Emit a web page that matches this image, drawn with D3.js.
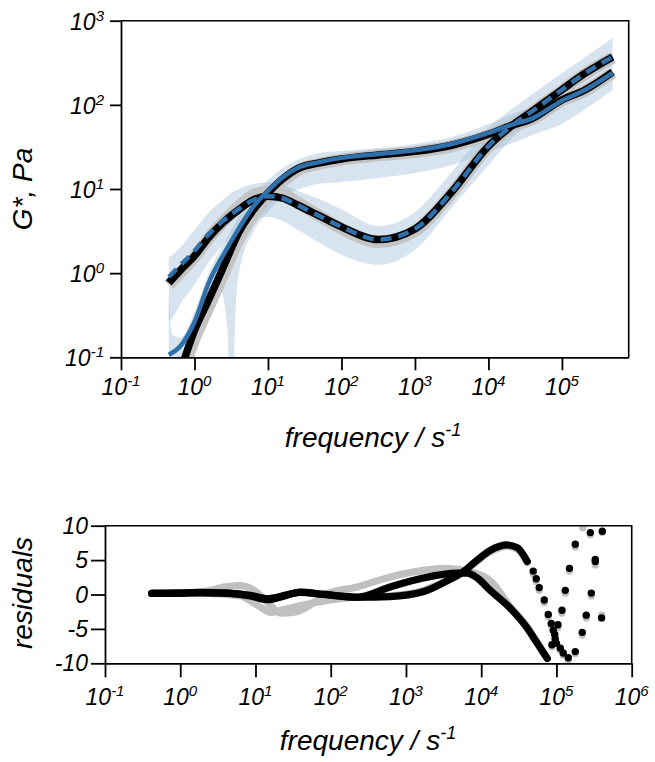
<!DOCTYPE html>
<html>
<head>
<meta charset="utf-8">
<script src="https://cdn.jsdelivr.net/npm/d3@7"></script>
<style>
body { margin: 0; background: #fff; }
text { font-family: "Liberation Sans", Arial, sans-serif; font-style: italic; fill: #000; }
</style>
</head>
<body>
<svg id="chart" width="655" height="762"></svg>
<script>
// ---- top panel: moduli, log10 values ----
const freqExp = [-0.35, -0.2, 0, 0.2, 0.4, 0.6, 0.8, 1.0, 1.2, 1.4, 1.7, 2.0, 2.5, 3.0, 3.5, 4.0, 4.3, 4.6, 5.0, 5.3, 5.69];
const storageBlack = [-1.46, -1.17, -0.68, -0.305, 0.087, 0.48, 0.75, 0.954, 1.12, 1.24, 1.31, 1.357, 1.405, 1.447, 1.52, 1.65, 1.75, 1.84, 2.06, 2.17, 2.39];
const storageGray  = [-1.56, -1.27, -0.78, -0.39, 0.0, 0.40, 0.69, 0.91, 1.09, 1.22, 1.30, 1.35, 1.40, 1.44, 1.51, 1.64, 1.74, 1.83, 2.05, 2.16, 2.38];
const storageBlue  = [-0.97, -0.875, -0.58, -0.10, 0.23, 0.526, 0.79, 0.978, 1.14, 1.25, 1.32, 1.37, 1.417, 1.46, 1.535, 1.666, 1.76, 1.84, 2.05, 2.17, 2.38];
const lossBlack = [-0.115, 0.027, 0.205, 0.43, 0.61, 0.752, 0.87, 0.915, 0.89, 0.81, 0.68, 0.55, 0.40, 0.526, 0.965, 1.51, 1.74, 1.927, 2.18, 2.367, 2.57];
const lossGray  = [-0.14, 0.0, 0.19, 0.42, 0.62, 0.79, 0.93, 0.97, 0.94, 0.84, 0.68, 0.53, 0.37, 0.50, 0.95, 1.50, 1.73, 1.92, 2.17, 2.36, 2.56];
const lossBlue  = [-0.045, 0.087, 0.265, 0.47, 0.63, 0.76, 0.87, 0.915, 0.89, 0.81, 0.68, 0.55, 0.40, 0.526, 0.965, 1.51, 1.74, 1.927, 2.18, 2.367, 2.57];

// confidence bands of the blue fit
const bandExp = [-0.35, -0.3, -0.2, 0, 0.2, 0.35, 0.45, 0.5, 0.55, 0.6, 0.8, 1.0, 1.2, 1.4, 1.7, 2.0, 2.5, 3.0, 3.5, 4.0, 4.3, 4.6, 5.0, 5.3, 5.69];
const storageHi = [-0.317, -0.733, -0.769, -0.46, 0.015, 0.277, 0.431, 0.514, 0.585, 0.68, 0.918, 1.108, 1.251, 1.346, 1.429, 1.453, 1.488, 1.536, 1.619, 1.773, 1.88, 1.987, 2.141, 2.296, 2.51];
const storageLo = [-2.5, -2.5, -1.09, -0.852, -0.377, -0.198, -0.674, -3.0, -0.674, -0.02, 0.491, 0.728, 0.906, 0.99, 1.061, 1.084, 1.132, 1.191, 1.286, 1.441, 1.536, 1.643, 1.773, 1.939, 2.177];
const lossHi = [0.182, 0.218, 0.3, 0.514, 0.728, 0.847, 0.918, 0.954, 0.978, 1.001, 1.06, 1.08, 1.05, 0.98, 0.88, 0.76, 0.561, 0.728, 1.203, 1.726, 1.939, 2.129, 2.379, 2.557, 2.795];
const lossLo = [-0.578, -0.531, -0.377, -0.139, 0.134, 0.3, 0.395, 0.443, 0.491, 0.538, 0.645, 0.668, 0.62, 0.52, 0.36, 0.22, 0.099, 0.277, 0.776, 1.286, 1.583, 1.82, 2.094, 2.272, 2.486];

// ---- bottom panel: residuals, [log10 frequency, residual] ----
const blackA = [[-0.379, 0.15], [0.0, 0.2], [0.263, 0.25], [0.622, 0.2], [0.928, -0.1], [1.154, -0.6], [1.42, -0.05], [1.593, 0.3], [1.899, 0.05], [2.351, -0.4], [2.79, -0.3], [3.229, 0.4], [3.548, 2.0], [3.761, 3.3], [3.947, 5.0], [4.12, 6.4], [4.346, 7.2], [4.479, 6.8], [4.612, 4.8]];
const blackADots = [[4.691, 3.4], [4.731, 2.3], [4.771, 1.0], [4.838, -0.8], [4.891, -2.9], [4.931, -4.2], [4.957, -5.2], [4.984, -6.5], [5.0, -7.1], [5.051, -7.8], [5.09, -8.5], [5.157, -9.2], [5.25, -8.3], [5.343, -5.5], [5.396, -3.0], [5.463, 0.2], [5.516, 4.8], [5.609, 9.2]];
const blackB = [[-0.379, 0.15], [0.0, 0.2], [0.263, 0.3], [0.622, 0.2], [0.928, -0.2], [1.154, -0.75], [1.42, -0.1], [1.593, 0.35], [1.899, 0.0], [2.351, -0.4], [2.79, 1.1], [3.229, 2.4], [3.681, 3.1], [3.814, 3.1], [3.947, 2.4], [4.12, 0.6], [4.386, -2.0], [4.612, -4.9], [4.745, -7.1], [4.878, -9.3]];
const blackBDots = [[4.94, -7.3], [4.977, -5.8], [5.02, -4.4], [5.073, -2.3], [5.117, 0.6], [5.173, 3.8], [5.25, 7.3], [5.45, 9.0], [5.516, 5.1], [5.6, -3.4]];
const grayA = [[-0.379, 0.15], [0.263, 0.2], [0.8, -0.2], [1.02, -1.5], [1.2, -2.6], [1.37, -2.2], [1.6, -1.6], [2.0, -0.8], [2.35, -0.4], [2.79, -0.2], [3.23, 0.6], [3.55, 2.1], [3.76, 3.3], [3.95, 4.9], [4.12, 6.2], [4.35, 7.0], [4.48, 6.6], [4.61, 4.6]];
const grayADots = [[4.691, 3.0], [4.731, 1.9], [4.771, 0.6], [4.838, -1.2], [4.891, -3.2], [4.931, -4.5], [4.984, -6.8], [5.051, -8.1], [5.09, -8.8], [5.157, -9.5], [5.25, -8.6], [5.343, -5.9], [5.396, -3.4], [5.463, -0.2], [5.516, 4.3], [5.609, 9.0]];
const grayB = [[-0.379, 0.15], [0.263, 0.35], [0.6, 1.1], [0.8, 1.3], [1.02, 0.3], [1.2, -1.6], [1.33, -2.7], [1.5, -2.6], [1.73, -1.5], [1.9, -0.1], [2.35, 1.1], [2.79, 2.55], [3.23, 3.5], [3.55, 3.8], [3.85, 3.3], [4.12, 2.0], [4.39, -1.8], [4.61, -4.7], [4.75, -7.0], [4.88, -9.3]];
const grayBDots = [[4.94, -7.6], [4.977, -6.1], [5.02, -4.8], [5.073, -2.7], [5.117, 0.2], [5.173, 3.4], [5.25, 6.9], [5.35, 9.7], [5.45, 8.7], [5.516, 4.7], [5.6, -3.0]];

const topXTicks = [-1, 0, 1, 2, 3, 4, 5];
const topYTicks = [-1, 0, 1, 2, 3];
const botXTicks = [-1, 0, 1, 2, 3, 4, 5, 6];
const botYTicks = [-10, -5, 0, 5, 10];

const svg = d3.select('#chart');

// scales
const xTop = d3.scaleLog().domain([0.1, 8.1e5]).range([121, 628.7]);
const yTop = d3.scaleLog().domain([0.1, 1000]).range([357.3, 20.7]);
const xBot = d3.scaleLog().domain([0.1, 1e6]).range([105, 631.7]);
const yBot = d3.scaleLinear().domain([-10, 10]).range([663.3, 525.7]);

svg.append('clipPath').attr('id', 'clipTop').append('rect')
    .attr('x', 121).attr('y', 20.7).attr('width', 628.7 - 121).attr('height', 357.3 - 20.7);
svg.append('clipPath').attr('id', 'clipBot').append('rect')
    .attr('x', 105).attr('y', 525.7).attr('width', 631.7 - 105).attr('height', 663.3 - 525.7);

// ---------- top panel ----------
const topG = svg.append('g').attr('clip-path', 'url(#clipTop)');

function band(lo, hi) {
    return d3.area()
        .x((d, i) => xTop(10 ** bandExp[i]))
        .y0((d, i) => yTop(10 ** lo[i]))
        .y1((d, i) => yTop(10 ** hi[i]))
        .curve(d3.curveMonotoneX)(bandExp);
}
topG.append('path').attr('d', band(storageLo, storageHi)).attr('fill', '#8fb4d4').attr('fill-opacity', 0.36);
topG.append('path').attr('d', band(lossLo, lossHi)).attr('fill', '#8fb4d4').attr('fill-opacity', 0.36);

function curve(vals) {
    return d3.line()
        .x((d, i) => xTop(10 ** freqExp[i]))
        .y(d => yTop(10 ** d))
        .curve(d3.curveMonotoneX)(vals);
}
[storageGray, lossGray].forEach(v => {
    topG.append('path').attr('d', curve(v)).attr('fill', 'none')
        .attr('stroke', '#c4c4c4').attr('stroke-width', 12);
});
[storageBlack, lossBlack].forEach(v => {
    topG.append('path').attr('d', curve(v)).attr('fill', 'none')
        .attr('stroke', '#000').attr('stroke-width', 7.5);
});
topG.append('path').attr('d', curve(storageBlue)).attr('fill', 'none')
    .attr('stroke', '#2f70aa').attr('stroke-width', 4.5);
topG.append('path').attr('d', curve(lossBlue)).attr('fill', 'none')
    .attr('stroke', '#2f70aa').attr('stroke-width', 4.5).attr('stroke-dasharray', '11 7');

// axes
function supLabel(sel) {
    sel.each(function (d) {
        const t = d3.select(this);
        t.text(null);
        t.append('tspan').text('10');
        t.append('tspan').attr('dy', -9).attr('font-size', 15).text(Math.round(Math.log10(d)));
    });
}

svg.append('g').attr('transform', 'translate(0,357.3)')
    .call(d3.axisBottom(xTop).tickValues(topXTicks.map(e => 10 ** e)).tickSize(13).tickSizeOuter(0).tickFormat(''));
svg.append('g').attr('transform', 'translate(121,0)')
    .call(d3.axisLeft(yTop).tickValues(topYTicks.map(e => 10 ** e)).tickSize(11).tickSizeOuter(0).tickFormat(''));

svg.append('g').selectAll('text').data(topXTicks.map(e => 10 ** e)).join('text')
    .attr('x', d => xTop(d)).attr('y', 395).attr('text-anchor', 'middle').attr('font-size', 23)
    .call(supLabel);
svg.append('g').selectAll('text').data(topYTicks.map(e => 10 ** e)).join('text')
    .attr('x', 104).attr('y', d => yTop(d) + 9).attr('text-anchor', 'end').attr('font-size', 23)
    .call(supLabel);

// frame
svg.append('path')
    .attr('d', `M121,20.7H628.7V357.3`)
    .attr('fill', 'none').attr('stroke', '#000').attr('stroke-width', 1.6);

svg.append('text').attr('x', 373).attr('y', 447).attr('text-anchor', 'middle').attr('font-size', 28)
    .call(t => { t.append('tspan').text('frequency / s'); t.append('tspan').attr('dy', -11).attr('font-size', 18).text('-1'); });
svg.append('text').attr('transform', 'translate(32,189) rotate(-90)').attr('text-anchor', 'middle').attr('font-size', 28)
    .text('G*, Pa');

// ---------- bottom panel ----------
const botG = svg.append('g').attr('clip-path', 'url(#clipBot)');
const resLine = d3.line().x(d => xBot(10 ** d[0])).y(d => yBot(d[1])).curve(d3.curveMonotoneX);

[[grayA, grayADots, '#c0c0c0'], [grayB, grayBDots, '#c0c0c0'], [blackA, blackADots, '#000'], [blackB, blackBDots, '#000']]
    .forEach(([dense, dots, col]) => {
        botG.append('path').attr('d', resLine(dense)).attr('fill', 'none')
            .attr('stroke', col).attr('stroke-width', 7.2).attr('stroke-linecap', 'round');
        botG.append('g').selectAll('circle').data(dots).join('circle')
            .attr('cx', d => xBot(10 ** d[0])).attr('cy', d => yBot(d[1])).attr('r', 3.7).attr('fill', col);
    });

svg.append('g').attr('transform', 'translate(0,663.3)')
    .call(d3.axisBottom(xBot).tickValues(botXTicks.map(e => 10 ** e)).tickSize(14).tickSizeOuter(0).tickFormat(''));
svg.append('g').attr('transform', 'translate(105,0)')
    .call(d3.axisLeft(yBot).tickValues(botYTicks).tickSize(14).tickSizeOuter(0).tickFormat(''));

svg.append('g').selectAll('text').data(botXTicks.map(e => 10 ** e)).join('text')
    .attr('x', d => xBot(d)).attr('y', 705).attr('text-anchor', 'middle').attr('font-size', 23)
    .call(supLabel);
svg.append('g').selectAll('text').data(botYTicks).join('text')
    .attr('x', 88).attr('y', d => yBot(d) + 8).attr('text-anchor', 'end').attr('font-size', 23)
    .text(d => d);

svg.append('path')
    .attr('d', `M105,525.7H631.7V663.3`)
    .attr('fill', 'none').attr('stroke', '#000').attr('stroke-width', 1.6);

svg.append('text').attr('x', 368).attr('y', 750).attr('text-anchor', 'middle').attr('font-size', 28)
    .call(t => { t.append('tspan').text('frequency / s'); t.append('tspan').attr('dy', -11).attr('font-size', 18).text('-1'); });
svg.append('text').attr('transform', 'translate(32,593) rotate(-90)').attr('text-anchor', 'middle').attr('font-size', 28)
    .text('residuals');

// axis styling
svg.selectAll('.domain, .tick line').attr('stroke', '#000').attr('stroke-width', 1.8);
</script>
</body>
</html>
